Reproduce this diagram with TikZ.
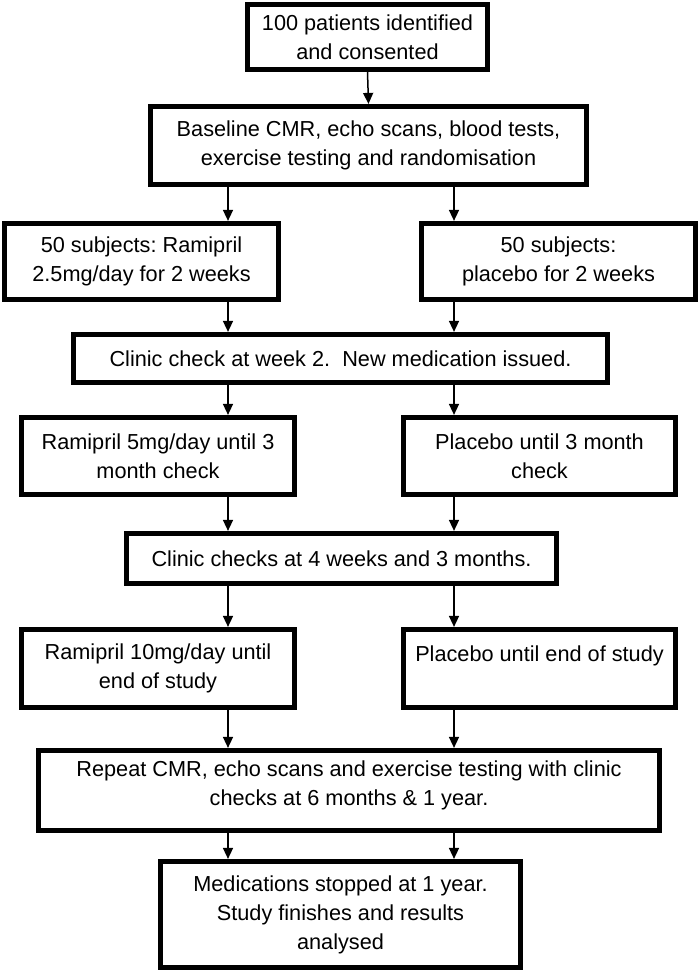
\documentclass[tikz,border=0pt]{standalone}
\usepackage{fontspec}
\setmainfont{Liberation Sans}
\usetikzlibrary{arrows.meta}
\frenchspacing
\begin{document}
\begin{tikzpicture}[x=1pt,y=-1pt,
  box/.style={draw, line width=4.7pt, inner sep=0pt, align=center,
    font=\fontsize{21.7}{29}\selectfont},
  arr/.style={line width=1.5pt, -{Triangle[length=11pt,width=10pt]}}]
\useasboundingbox (0,0) rectangle (700,973);
\coordinate (cl) at (228,0);
\coordinate (cr) at (454,0);
\node[box, minimum width=240.5pt, minimum height=65.5pt] (b1) at (367.5,37) {100 patients identified\\and consented};
\node[box, minimum width=436.5pt, minimum height=78.5pt] (b2) at (368.5,145.5) {Baseline CMR, echo scans, blood tests,\\exercise testing and randomisation};
\node[box, minimum width=274.5pt, minimum height=76.5pt] (b3l) at (141.5,261.5) {50 subjects: Ramipril\\2.5mg/day for 2 weeks};
\node[box, minimum width=274.5pt, minimum height=76.5pt] (b3r) at (558.5,261.5) {50 subjects:\\placebo for 2 weeks};
\node[box, minimum width=534.5pt, minimum height=48.5pt] (b4) at (340.5,358.5) {Clinic check at week 2.\ \ New medication issued.};
\node[box, minimum width=273.5pt, minimum height=77.5pt] (b5l) at (158,456) {Ramipril 5mg/day until 3\\month check};
\node[box, minimum width=272.5pt, minimum height=77.5pt] (b5r) at (539.5,456) {Placebo until 3 month\\check};
\node[box, minimum width=430.5pt, minimum height=50.5pt] (b6) at (341.5,558.5) {Clinic checks at 4 weeks and 3 months.};
\node[box, minimum width=273.5pt, minimum height=78.5pt] (b7l) at (158,668.5) {Ramipril 10mg/day until\\end of study};
\node[box, minimum width=272.5pt, minimum height=78.5pt] (b7r) at (539.5,668.5) {Placebo until end of study\\\mbox{}};
\node[box, minimum width=621.5pt, minimum height=80.5pt] (b8) at (349,790.5) {Repeat CMR, echo scans and exercise testing with clinic\\checks at 6 months \& 1 year.\\[-14pt]\mbox{}};
\node[box, minimum width=360.5pt, minimum height=106.5pt] (b9) at (340.5,914.5) {Medications stopped at 1 year.\\Study finishes and results\\analysed};
\draw[arr] (b1.south) -- (b2.north);
\draw[arr] (b2.south -| cl) -- (b3l.north -| cl);
\draw[arr] (b2.south -| cr) -- (b3r.north -| cr);
\draw[arr] (b3l.south -| cl) -- (b4.north -| cl);
\draw[arr] (b3r.south -| cr) -- (b4.north -| cr);
\draw[arr] (b4.south -| cl) -- (b5l.north -| cl);
\draw[arr] (b4.south -| cr) -- (b5r.north -| cr);
\draw[arr] (b5l.south -| cl) -- (b6.north -| cl);
\draw[arr] (b5r.south -| cr) -- (b6.north -| cr);
\draw[arr] (b6.south -| cl) -- (b7l.north -| cl);
\draw[arr] (b6.south -| cr) -- (b7r.north -| cr);
\draw[arr] (b7l.south -| cl) -- (b8.north -| cl);
\draw[arr] (b7r.south -| cr) -- (b8.north -| cr);
\draw[arr] (b8.south -| cl) -- (b9.north -| cl);
\draw[arr] (b8.south -| cr) -- (b9.north -| cr);
\end{tikzpicture}
\end{document}
